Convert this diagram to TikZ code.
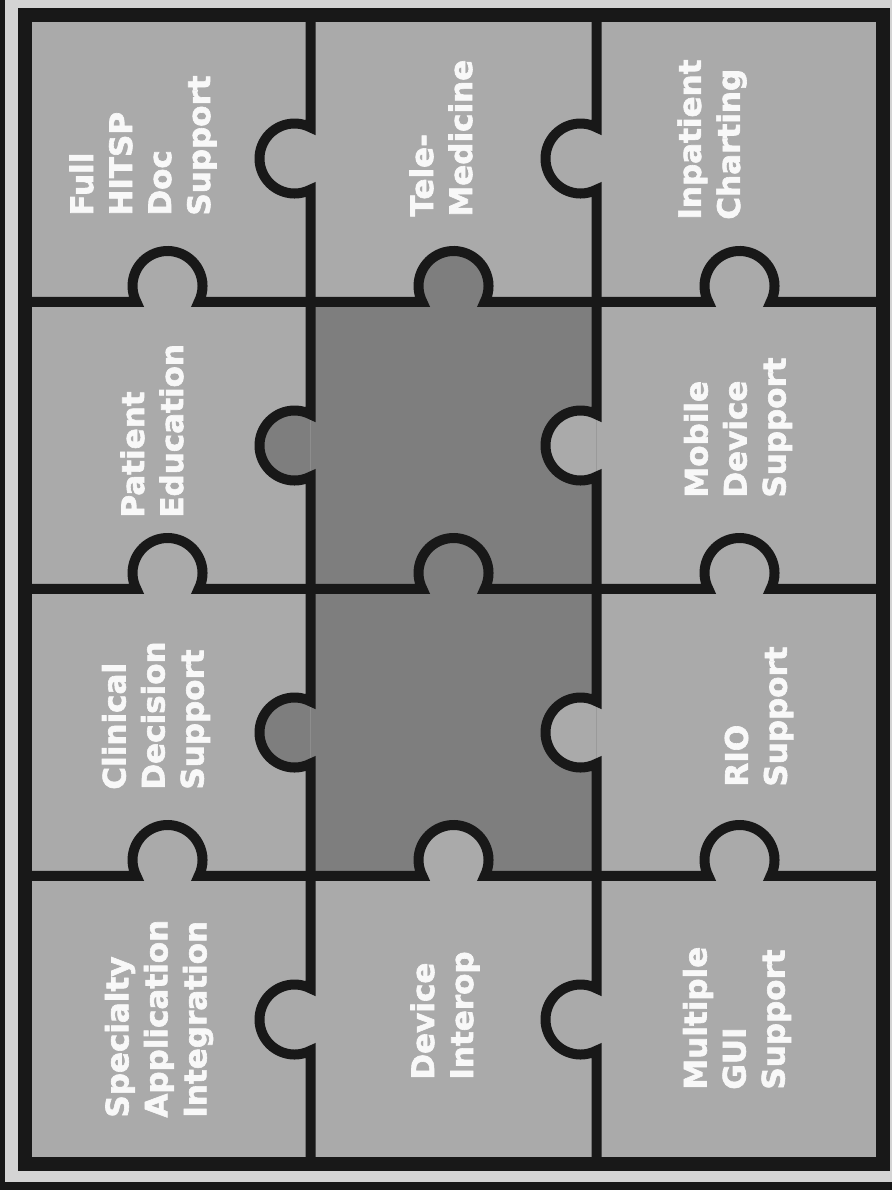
\documentclass[tikz,border=0pt]{standalone}
\usepackage{fontspec}
\setmainfont{DejaVu Sans}[BoldFeatures={FakeBold=2}]
\definecolor{margingray}{RGB}{212,212,212}
\definecolor{piecegray}{RGB}{170,170,170}
\definecolor{centergray}{RGB}{126,126,126}
\definecolor{edgeblack}{RGB}{24,24,24}
\definecolor{textwhite}{RGB}{248,248,248}

\begin{document}
\begin{tikzpicture}[x=0.5pt, y=0.5pt,
  piecetext/.style={rotate=90, anchor=west, inner sep=0pt, align=left,
    text=textwhite, font=\fontsize{15.5}{19.5}\selectfont\bfseries},
  divider/.style={draw=edgeblack, line width=5pt},
  frameline/.style={draw=edgeblack, line width=7pt},
]
\useasboundingbox (0,0) rectangle (892,1190);
% ---- page and scan edges ----
\fill[margingray] (0,0) rectangle (892,1190);
\fill[edgeblack] (0,0) rectangle (5,1190);
\fill[edgeblack] (0,0) rectangle (892,8);

% ---- pieces ----
\fill[piecegray] (24.5,26) rectangle (883,1175);
\fill[centergray] (310.5,314) rectangle (596.5,888);
% knobs of the centre pieces
\fill[centergray] (422.4,888) arc[start angle=207.2, end angle=-27.2, radius=35] -- cycle;
\fill[centergray] (310.5,775.6) arc[start angle=62.8, end angle=297.2, radius=35] -- cycle;
\fill[centergray] (310.5,488.6) arc[start angle=62.8, end angle=297.2, radius=35] -- cycle;
% knobs pushing into the centre pieces
\fill[piecegray] (422.4,314) arc[start angle=207.2, end angle=-27.2, radius=35] -- cycle;
\fill[piecegray] (596.5,775.6) arc[start angle=62.8, end angle=297.2, radius=35] -- cycle;
\fill[piecegray] (596.5,488.6) arc[start angle=62.8, end angle=297.2, radius=35] -- cycle;

% ---- row dividers ----
\draw[divider] (24.5,888) -- (136.4,888)
  arc[start angle=207.2, end angle=-27.2, radius=35] -- (422.4,888)
  arc[start angle=207.2, end angle=-27.2, radius=35] -- (708.4,888)
  arc[start angle=207.2, end angle=-27.2, radius=35] -- (883,888);
\draw[divider] (24.5,601) -- (136.4,601)
  arc[start angle=207.2, end angle=-27.2, radius=35] -- (422.4,601)
  arc[start angle=207.2, end angle=-27.2, radius=35] -- (708.4,601)
  arc[start angle=207.2, end angle=-27.2, radius=35] -- (883,601);
\draw[divider] (24.5,314) -- (136.4,314)
  arc[start angle=207.2, end angle=-27.2, radius=35] -- (422.4,314)
  arc[start angle=207.2, end angle=-27.2, radius=35] -- (708.4,314)
  arc[start angle=207.2, end angle=-27.2, radius=35] -- (883,314);

% ---- column dividers ----
\draw[divider] (310.5,1175) -- (310.5,1062.6)
  arc[start angle=62.8, end angle=297.2, radius=35] -- (310.5,775.6)
  arc[start angle=62.8, end angle=297.2, radius=35] -- (310.5,488.6)
  arc[start angle=62.8, end angle=297.2, radius=35] -- (310.5,201.6)
  arc[start angle=62.8, end angle=297.2, radius=35] -- (310.5,26);
\draw[divider] (596.5,1175) -- (596.5,1062.6)
  arc[start angle=62.8, end angle=297.2, radius=35] -- (596.5,775.6)
  arc[start angle=62.8, end angle=297.2, radius=35] -- (596.5,488.6)
  arc[start angle=62.8, end angle=297.2, radius=35] -- (596.5,201.6)
  arc[start angle=62.8, end angle=297.2, radius=35] -- (596.5,26);

% ---- outer frame ----
\draw[frameline] (24.5,26) rectangle (883,1175);

% ---- piece labels ----
\node[piecetext] (hitsp)  at (143,974) {Full\\HITSP\\Doc\\Support};
\node[piecetext] (tele)   at (441,973) {Tele-\\Medicine};
\node[piecetext] (inpat)  at (712,970) {Inpatient\\Charting};
\node[piecetext] (pated)  at (152,672) {Patient\\Education};
\node[piecetext] (mobile) at (738,692) {Mobile\\Device\\Support};
\node[piecetext] (clin)   at (156,400) {Clinical\\Decision\\Support};
\node[piecetext] (rio)    at (759,403) {RIO\\Support};
\node[piecetext] (spec)   at (159,72)  {Specialty\\Application\\Integration};
\node[piecetext] (devint) at (445,110) {Device\\Interop};
\node[piecetext] (multi)  at (737,100) {Multiple\\GUI\\Support};

\end{tikzpicture}
\end{document}
